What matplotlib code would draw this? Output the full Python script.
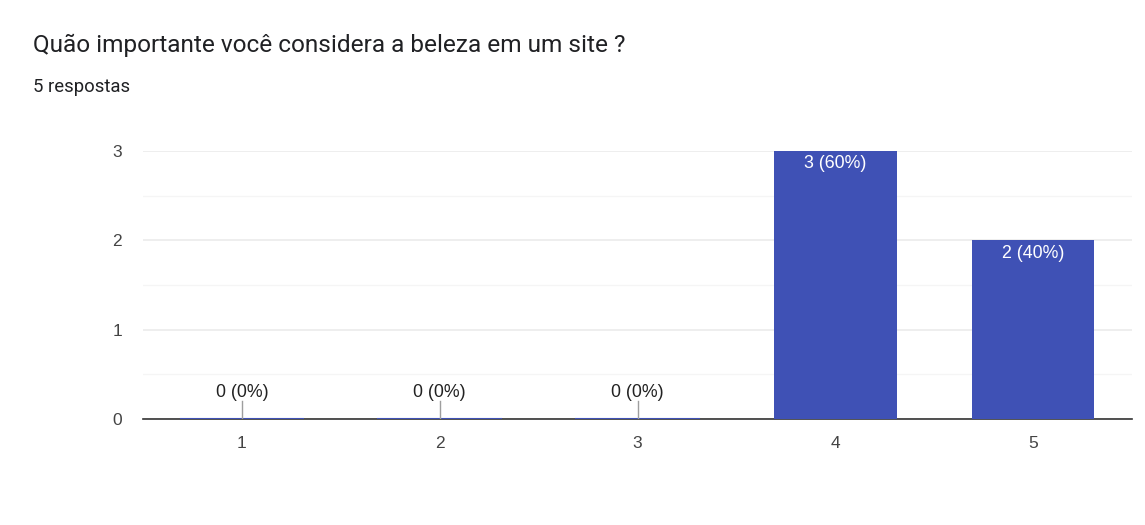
import matplotlib.pyplot as plt
from matplotlib.ticker import MultipleLocator

categories = ["1", "2", "3", "4", "5"]
counts = [0, 0, 0, 3, 2]
total = 5
labels = [f"{c} ({round(100 * c / total)}%)" for c in counts]

bar_color = "#3f51b5"

fig = plt.figure(figsize=(11.45, 5.25), dpi=100)
ax = fig.add_axes([143 / 1145, 1 - 419 / 525, (1132 - 143) / 1145, (419 - 151) / 525])

x = list(range(len(categories)))
ax.bar(x, counts, width=0.62, color=bar_color, zorder=3)

for xi, c, lab in zip(x, counts, labels):
    if c > 0:
        ax.text(xi, c - 0.05, lab, ha="center", va="top", color="white",
                fontsize=12.8, family="Liberation Sans", zorder=4)
    else:
        # tiny baseline bar and pointer line
        ax.plot([xi - 0.31, xi + 0.31], [0.005, 0.005], color=bar_color, lw=1.5, zorder=3)
        ax.plot([xi, xi], [0, 0.2], color="#9e9e9e", lw=1, zorder=4)
        ax.text(xi, 0.2, lab, ha="center", va="bottom", color="#222222",
                fontsize=12.8, family="Liberation Sans", zorder=4)

ax.set_xlim(-0.5, 4.5)
ax.set_ylim(0, 3)
ax.set_xticks(x)
ax.set_xticklabels(categories)
ax.yaxis.set_major_locator(MultipleLocator(1))
ax.yaxis.set_minor_locator(MultipleLocator(0.5))
ax.grid(axis="y", which="major", color="#ebebeb", lw=1.2, zorder=0)
ax.grid(axis="y", which="minor", color="#f5f5f5", lw=1, zorder=0)

for s in ["top", "right", "left"]:
    ax.spines[s].set_visible(False)
ax.spines["bottom"].set_color("#333333")
ax.spines["bottom"].set_linewidth(1.2)
ax.tick_params(axis="both", which="both", length=0, labelsize=12.5, labelcolor="#444444")
ax.tick_params(axis="x", pad=12)
ax.tick_params(axis="y", pad=15)
for t in ax.get_xticklabels() + ax.get_yticklabels():
    t.set_family("Liberation Sans")

fig.text(33 / 1145, 1 - 45 / 525, "Quão importante você considera a beleza em um site ?",
         fontsize=17.6, family="Roboto", color="#202124", va="center", ha="left")
fig.text(33 / 1145, 1 - 87 / 525, "5 respostas", fontsize=13.3, family="Roboto",
         color="#202124", va="center", ha="left")

fig.savefig("out.png", dpi=100)
